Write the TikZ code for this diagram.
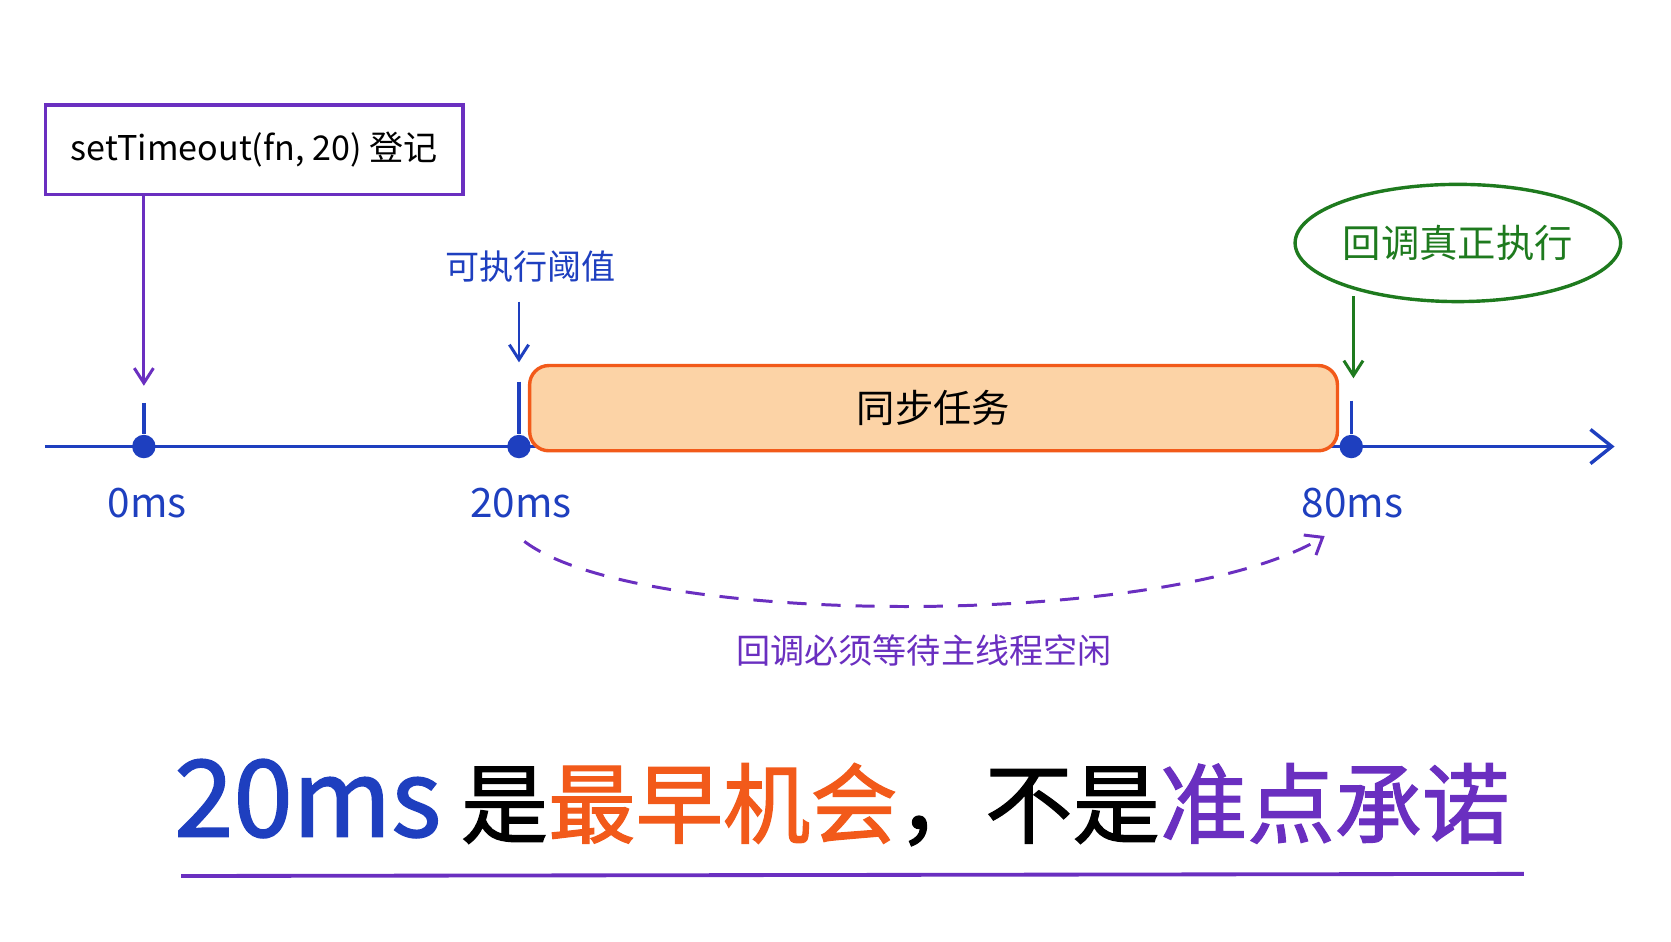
\documentclass[tikz,border=0pt]{standalone}
\usepackage{fontspec}
\setmainfont{Noto Sans CJK SC}
\newfontfamily\tbold[FakeBold=1.5]{Noto Sans CJK SC}
\usetikzlibrary{arrows.meta,shapes.geometric}
\definecolor{cb}{HTML}{1E3FBF}
\definecolor{cp}{HTML}{6A2FC0}
\definecolor{co}{HTML}{F25A1A}
\definecolor{cg}{HTML}{1E7A1E}
\definecolor{cf}{HTML}{FCD3A6}
\begin{document}
\begin{tikzpicture}[x=0.5pt,y=-0.5pt,
  dot/.style={circle,fill=cb,inner sep=0,minimum size=11},
  tick/.style={cb,line width=1.6pt},
  lbl/.style={cb,font=\fontsize{19}{20}\selectfont},
  arr/.style={line width=1.4pt,-{Straight Barb[length=7pt,width=9pt]}}]
\useasboundingbox (0,0) rectangle (1568,883);
% axis
\coordinate (a0) at (42,419);
\coordinate (a1) at (1515,419);
\draw[cb,line width=1.6pt,-{Straight Barb[length=10pt,width=16pt]}] (a0) -- (a1);
\node[dot] (d0) at (135,419) {};
\node[dot] (d20) at (487,419) {};
\node[dot] (d80) at (1268,419) {};
\draw[tick] (135,378) -- (d0);
\draw[tick] (487,358) -- (d20);
\draw[tick] (1268,376) -- (d80);
\node[lbl] (l0) at (138,472) {0ms};
\node[lbl] (l20) at (489,472) {20ms};
\node[lbl] (l80) at (1269,472) {80ms};
% setTimeout box
\node[draw=cp,line width=1.6pt,minimum width=196pt,minimum height=42pt,font=\fontsize{16}{17}\selectfont] (st) at (238.5,140.5) {setTimeout(fn, 20) 登记};
\coordinate (st0) at (135,362);
\draw[cp,arr] (135,183) -- (st0);
% threshold
\node[cb,font=\fontsize{16}{17}\selectfont] (th) at (498,250) {可执行阈值};
\coordinate (th0) at (487,340);
\draw[cb,arr] (487,283) -- (th0);
% sync task
\node[draw=co,fill=cf,line width=1.6pt,rounded corners=9pt,minimum width=379pt,minimum height=40pt,font=\fontsize{18}{19}\selectfont] (sync) at (876,383) {同步任务};
% green ellipse
\node[draw=cg,ellipse,line width=1.6pt,minimum width=145pt,minimum height=55pt,inner sep=0,text=cg,font=\fontsize{18}{19}\selectfont] (cb) at (1368,228) {回调真正执行};
\coordinate (cb0) at (1270,355);
\draw[cg,arr] (1270,278) -- (cb0);
% dashed curve
\coordinate (c0) at (492,508);
\coordinate (c1) at (1243,503);
\draw[cp,line width=1.4pt,dash pattern=on 9pt off 7pt,-{Straight Barb[length=7pt,width=11pt]}] (c0) .. controls (600,590) and (1100,590) .. (c1);
\node[cp,font=\fontsize{16}{17}\selectfont] (wait) at (867,610) {回调必须等待主线程空闲};
% title
\node[anchor=base,font=\fontsize{41}{45}\selectfont] (title) at (790,785) {\tbold\textcolor{cb}{\fontsize{50}{54}\selectfont 20ms} 是\textcolor{co}{最早机会}，不是\textcolor{cp}{准点承诺}};
\coordinate (u0) at (170,822);
\coordinate (u1) at (1430,820);
\draw[cp,line width=1.8pt] (u0) -- (u1);
\end{tikzpicture}
\end{document}
